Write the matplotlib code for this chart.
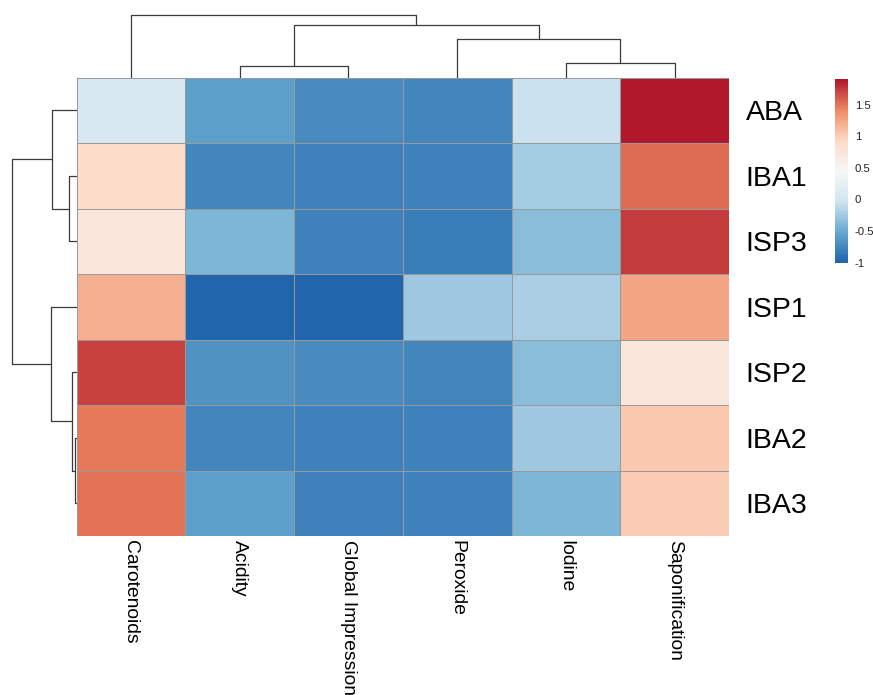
import numpy as np
import matplotlib
matplotlib.use('Agg')
import matplotlib.pyplot as plt
from matplotlib.colors import LinearSegmentedColormap

plt.rcParams['font.family'] = ['Liberation Sans', 'DejaVu Sans']

# ---- data (rows / columns already in dendrogram order) ----
ROWS = ['ABA', 'IBA1', 'ISP3', 'ISP1', 'ISP2', 'IBA2', 'IBA3']
COLS = ['Carotenoids', 'Acidity', 'Global Impression', 'Peroxide', 'Iodine', 'Saponification']
ABA  = [0.07, -0.57, -0.72, -0.74, -0.07, 1.90]
IBA1 = [0.90, -0.76, -0.79, -0.79, -0.24, 1.54]
ISP3 = [0.73, -0.41, -0.79, -0.82, -0.35, 1.73]
ISP1 = [1.19, -1.00, -0.99, -0.26, -0.20, 1.26]
ISP2 = [1.71, -0.68, -0.72, -0.74, -0.36, 0.72]
IBA2 = [1.47, -0.75, -0.78, -0.77, -0.26, 1.03]
IBA3 = [1.50, -0.57, -0.79, -0.77, -0.42, 1.02]

# dendrograms: (child a, child b, height); leaves = 0..n-1, merge k = n+k
ROW_MERGES = [(5, 6, 2), (4, 7, 5), (1, 2, 8), (0, 9, 25), (3, 8, 26), (10, 11, 65)]
COL_MERGES = [(1, 2, 12), (4, 5, 15), (3, 7, 39), (6, 8, 53), (0, 9, 63)]

CBAR_TICKS = [-1, -0.5, 0, 0.5, 1, 1.5]

mat = np.array([ABA, IBA1, ISP3, ISP1, ISP2, IBA2, IBA3])
cmap = LinearSegmentedColormap.from_list(
    'rdbu7', ['#2166ac', '#67a9cf', '#d1e5f0', '#f7f7f7', '#fddbc7', '#ef8a62', '#b2182b'], N=100)

W, H = 873, 695
fig = plt.figure(figsize=(W/100, H/100), dpi=100)

def px_axes(x0, y0, x1, y1):
    return fig.add_axes([x0/W, 1 - y1/H, (x1-x0)/W, (y1-y0)/H])

def dendro(merges, n):
    pos = {i: i + 0.5 for i in range(n)}
    hgt = {i: 0.0 for i in range(n)}
    segs = []
    for k, (a, b, h) in enumerate(merges):
        segs.append(([pos[a], pos[a], pos[b], pos[b]], [hgt[a], h, h, hgt[b]]))
        pos[n+k] = (pos[a] + pos[b]) / 2
        hgt[n+k] = h
    return segs

HX0, HX1, HY0, HY1 = 76.5, 729, 77.5, 536

# heatmap
ax = px_axes(HX0, HY0, HX1, HY1)
mesh = ax.pcolormesh(mat, cmap=cmap, vmin=mat.min(), vmax=mat.max(),
                     edgecolors='#999999', linewidth=0.7)
ax.set_xlim(0, len(COLS)); ax.set_ylim(len(ROWS), 0)
for s in ax.spines.values(): s.set_visible(False)
ax.set_xticks(np.arange(len(COLS)) + 0.5)
ax.set_xticklabels(COLS, rotation=270, fontsize=13.9)
ax.set_yticks(np.arange(len(ROWS)) + 0.5)
ax.set_yticklabels(ROWS, fontsize=20.5)
ax.yaxis.tick_right()
ax.tick_params(axis='x', length=0, pad=3)
ax.tick_params(axis='y', length=0, pad=12)

# top dendrogram
axt = px_axes(HX0, 0, HX1, HY0)
for xs, ys in dendro(COL_MERGES, len(COLS)):
    axt.plot(xs, ys, color='#3a3a3a', lw=0.9, solid_capstyle='butt')
axt.set_xlim(0, len(COLS)); axt.set_ylim(0, HY0)
axt.axis('off')

# left dendrogram
axl = px_axes(0, HY0, HX0, HY1)
for xs, ys in dendro(ROW_MERGES, len(ROWS)):
    axl.plot(ys, xs, color='#3a3a3a', lw=0.9, solid_capstyle='butt')
axl.set_xlim(HX0, 0); axl.set_ylim(len(ROWS), 0)
axl.axis('off')

# colour legend
cax = px_axes(835, 79.3, 848, 262.7)
cb = fig.colorbar(mesh, cax=cax, ticks=CBAR_TICKS)
cb.outline.set_visible(False)
cb.ax.set_yticklabels([f'{t:g}' for t in CBAR_TICKS])
cb.ax.tick_params(length=0, labelsize=8.2, pad=5, colors='#222222')

fig.savefig('out.png', dpi=100)
